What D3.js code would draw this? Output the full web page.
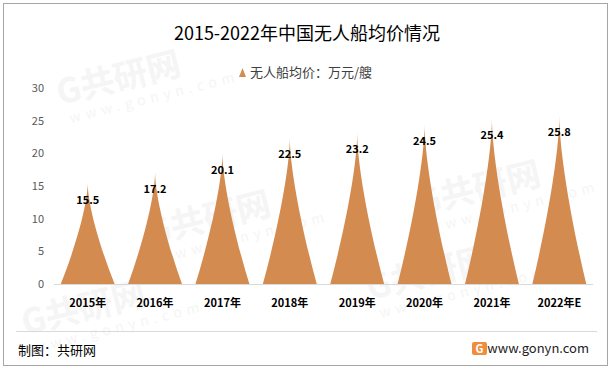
<!DOCTYPE html>
<html>
<head>
<meta charset="utf-8">
<script src="https://cdn.jsdelivr.net/npm/d3@7"></script>
<style>
  body { margin: 0; background: #fff; }
  svg { display: block; font-family: "Microsoft YaHei", "Noto Sans CJK SC", sans-serif; }
</style>
</head>
<body>
<div id="chart"></div>
<script>
// data
const years = ['2015年', '2016年', '2017年', '2018年', '2019年', '2020年', '2021年', '2022年E'];
const prices = [15.5, 17.2, 20.1, 22.5, 23.2, 24.5, 25.4, 25.8];
const yTicks = [0, 5, 10, 15, 20, 25, 30];

const w = 615, h = 371;
const fill = '#d38b50';

const svg = d3.select('#chart').append('svg')
    .attr('width', w)
    .attr('height', h);

svg.append('rect')
    .attr('x', 3.5).attr('y', 3.5)
    .attr('width', 604).attr('height', 362)
    .attr('fill', '#fff')
    .attr('stroke', '#a6a6a6');

// faint watermarks
const wm = svg.append('g');
const marks = [[60, 105], [150, 245], [370, 300], [420, 215], [25, 335]];
marks.forEach(([mx, my]) => {
    const g = wm.append('g')
        .attr('transform', `translate(${mx},${my}) rotate(-14)`)
        .attr('fill', '#f5f5f5');
    g.append('text').attr('font-size', 34).attr('font-weight', 'bold').text('G共研网');
    g.append('text').attr('y', 20).attr('x', 6).attr('font-size', 14)
        .attr('letter-spacing', 5).text('www.gonyn.com');
});

svg.append('text')
    .attr('x', 307).attr('y', 40)
    .attr('text-anchor', 'middle')
    .attr('font-size', 18)
    .attr('fill', '#000')
    .text('2015-2022年中国无人船均价情况');

// legend
svg.append('path')
    .attr('d', 'M239,77 L242.5,68 L246,77 Z')
    .attr('fill', fill);
svg.append('text')
    .attr('x', 250).attr('y', 77)
    .attr('font-size', 13)
    .attr('fill', '#404040')
    .text('无人船均价：万元/艘');

const x = d3.scaleBand()
    .domain(years)
    .range([54, 593])
    .paddingInner(0.2)
    .paddingOuter(0.1);

const y = d3.scaleLinear()
    .domain([0, 30])
    .range([284, 88]);

const yAxis = svg.append('g')
    .attr('transform', 'translate(44,0)')
    .call(d3.axisLeft(y).tickValues(yTicks).tickSize(0).tickPadding(0));
yAxis.select('.domain').remove();
yAxis.selectAll('text')
    .attr('font-size', 11)
    .attr('fill', '#595959')
    .style('font-family', '"Microsoft YaHei", "Noto Sans CJK SC", sans-serif');

// pointed shapes with concave sides
const peak = (d, i) => {
    const x0 = x(years[i]), hw = x.bandwidth() / 2, cx = x0 + hw;
    const b = y(0), t = y(d), ht = b - t;
    const left = `M${cx - hw},${b} C${cx - hw * 0.4},${b - ht * 0.4} ${cx},${b - ht * 0.8} ${cx},${t}`;
    const right = `C${cx},${b - ht * 0.8} ${cx + hw * 0.4},${b - ht * 0.4} ${cx + hw},${b}`;
    return `${left} ${right} Z`;
};

svg.append('g').selectAll('path')
    .data(prices)
    .enter()
    .append('path')
    .attr('d', peak)
    .attr('fill', fill);

svg.append('line')
    .attr('x1', 54).attr('x2', 593)
    .attr('y1', y(0) + 0.5).attr('y2', y(0) + 0.5)
    .attr('stroke', '#d9d9d9');

svg.append('g').selectAll('text')
    .data(prices)
    .enter()
    .append('text')
    .attr('x', (d, i) => x(years[i]) + x.bandwidth() / 2)
    .attr('y', d => y(d) + 21)
    .attr('text-anchor', 'middle')
    .attr('font-size', 11)
    .attr('font-weight', 'bold')
    .attr('fill', '#000')
    .text(d => d);

const xAxis = svg.append('g')
    .attr('transform', `translate(0,${y(0)})`)
    .call(d3.axisBottom(x).tickSize(0).tickPadding(15));
xAxis.select('.domain').remove();
xAxis.selectAll('text')
    .attr('font-size', 11)
    .attr('font-weight', 'bold')
    .attr('fill', '#000')
    .style('font-family', '"Microsoft YaHei", "Noto Sans CJK SC", sans-serif');

// footer
svg.append('line')
    .attr('x1', 16).attr('x2', 597)
    .attr('y1', 331.5).attr('y2', 331.5)
    .attr('stroke', '#d9d9d9');

svg.append('text')
    .attr('x', 18).attr('y', 355)
    .attr('font-size', 13)
    .attr('fill', '#000')
    .text('制图：共研网');

const logo = svg.append('g').attr('transform', 'translate(472,342)');
logo.append('rect').attr('width', 15).attr('height', 13).attr('rx', 2).attr('fill', '#f08c3c');
logo.append('text').attr('x', 7.5).attr('y', 11).attr('text-anchor', 'middle')
    .attr('font-size', 11).attr('font-weight', 'bold').attr('fill', '#fff').text('G');

svg.append('text')
    .attr('x', 589).attr('y', 353)
    .attr('text-anchor', 'end')
    .attr('font-size', 13)
    .attr('fill', '#222')
    .text('www.gonyn.com');
</script>
</body>
</html>
